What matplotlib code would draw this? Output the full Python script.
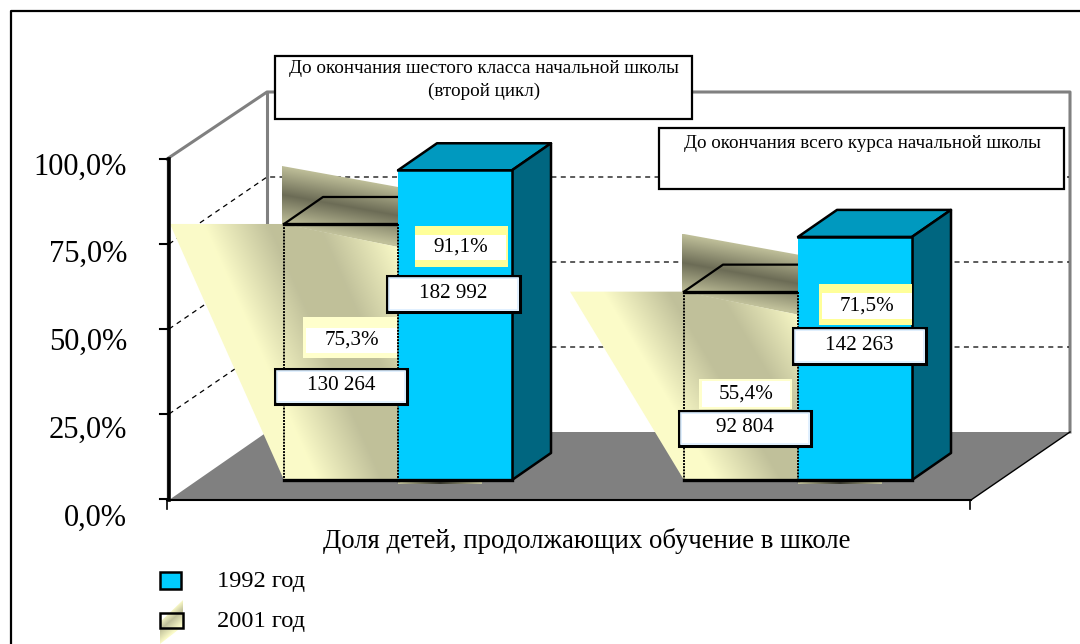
import matplotlib
matplotlib.use("Agg")
import matplotlib.pyplot as plt
import numpy as np
from matplotlib.patches import Polygon, Rectangle

plt.rcParams["font.family"] = ["Liberation Serif", "DejaVu Serif"]

# values
groups = ["До окончания шестого класса начальной школы\n(второй цикл)",
          "До окончания всего курса начальной школы"]
share_1992 = [91.1, 71.5]
share_2001 = [75.3, 55.4]
count_1992 = ["182 992", "142 263"]
count_2001 = ["130 264", "92 804"]
pct_1992 = ["91,1%", "71,5%"]
pct_2001 = ["75,3%", "55,4%"]
y_ticks = [0, 25, 50, 75, 100]
y_labels = ["0,0%", "25,0%", "50,0%", "75,0%", "100,0%"]
series = ["1992 год", "2001 год"]
x_title = "Доля детей, продолжающих обучение в школе"

PALE = np.array([0xFB, 0xFB, 0xC8]) / 255
TAN = np.array([0xC0, 0xC0, 0x9A]) / 255
DARK = np.array([0x6C, 0x6C, 0x56]) / 255
BLUE = "#00CCFF"
BLUE_TOP = "#0099BF"
BLUE_SIDE = "#006680"
GRAY = "#808080"

# everything is laid out in picture pixels
fig = plt.figure(figsize=(10.8, 6.44), dpi=100)
ax = fig.add_axes([0, 0, 1, 1])
ax.axis("off")

AXIS_X, AXIS_ZERO, AXIS_PX = 169, 499, 3.4
DX, DY = 98, 67
FLOOR_R = 971
BAR_BASE = 480
BAR_W = 114
BAR_LEFT = [284, 684]
BAR_DX, BAR_DY = 39, 27


def axis_y(v):
    return AXIS_ZERO - v * AXIS_PX


def bar_y(v):
    return BAR_BASE - v * AXIS_PX


def gradient_poly(pts, color_fn, z):
    xs = [p[0] for p in pts]
    ys = [p[1] for p in pts]
    x0, x1, y0, y1 = min(xs), max(xs), min(ys), max(ys)
    gx, gy = np.meshgrid(np.arange(x0, x1 + 1) + 0.5, np.arange(y0, y1 + 1) + 0.5)
    im = ax.imshow(color_fn(gx, gy), extent=(x0, x1 + 1, y1 + 1, y0),
                   aspect="auto", zorder=z, interpolation="bilinear")
    clip = Polygon(pts, closed=True, transform=ax.transData, fc="none", ec="none")
    ax.add_patch(clip)
    im.set_clip_path(clip)


def ramp(t, stops, colors):
    return np.stack([np.interp(t, stops, [c[i] for c in colors]) for i in range(3)], axis=-1)


def label_box(x0, y0, x1, y1, text, size=15.2):
    ax.add_patch(Rectangle((x0, y0), x1 - x0, y1 - y0, fc="white", ec="black", lw=2.2, zorder=z_lab))
    ax.add_patch(Rectangle((x0 + 2, y0 + 2), x1 - x0 - 4, y1 - y0 - 4, fc="none", ec="#DCEEFF", lw=1.2, zorder=z_lab))
    ax.text((x0 + x1) / 2, (y0 + y1) / 2 - 1, text, ha="center", va="center", fontsize=size, zorder=z_lab + 1)


def pct_box(x0, y0, x1, y1, ix0, iy0, ix1, iy1, color, text):
    ax.add_patch(Rectangle((x0, y0), x1 - x0, y1 - y0, fc=color, ec="none", zorder=z_lab))
    ax.add_patch(Rectangle((ix0, iy0), ix1 - ix0, iy1 - iy0, fc="white", ec="none", zorder=z_lab))
    ax.text((ix0 + ix1) / 2, (iy0 + iy1) / 2, text, ha="center", va="center", fontsize=15.2, zorder=z_lab + 1)


z_lab = 20

# outer frame, the right and bottom sides run off the picture
ax.plot([11, 11, 1080], [644, 11, 11], color="black", lw=1.6, zorder=1)

# floor and walls
ax.add_patch(Polygon([(AXIS_X, AXIS_ZERO + 1), (FLOOR_R, AXIS_ZERO + 1),
                      (FLOOR_R + DX + 1, AXIS_ZERO - DY), (AXIS_X + DX, AXIS_ZERO - DY)],
                     fc=GRAY, ec="none", zorder=2))
wall_top = axis_y(100) - DY
ax.plot([AXIS_X - 2, AXIS_X + DX, FLOOR_R + DX + 1, FLOOR_R + DX + 1],
        [axis_y(100), wall_top, wall_top, AXIS_ZERO - DY], color=GRAY, lw=2.2, zorder=2)
ax.plot([AXIS_X + DX, AXIS_X + DX], [wall_top, AXIS_ZERO - DY], color=GRAY, lw=2.2, zorder=2)
ax.plot([AXIS_X - 2, AXIS_X - 2], [axis_y(100), AXIS_ZERO], color=GRAY, lw=1, zorder=2)
for v in y_ticks[1:-1]:
    ax.plot([AXIS_X, AXIS_X + DX, FLOOR_R + DX], [axis_y(v), axis_y(v) - DY, axis_y(v) - DY],
            color="black", lw=0.9, ls=(0, (4, 3.5)), zorder=3)

# axis line, ticks and labels
ax.plot([AXIS_X, AXIS_X], [axis_y(100), AXIS_ZERO + 1], color="black", lw=2.6, zorder=12)
ax.plot([AXIS_X - 2, FLOOR_R], [AXIS_ZERO + 1, AXIS_ZERO + 1], color="black", lw=1.5, zorder=12)
ax.plot([FLOOR_R, FLOOR_R + DX + 1], [AXIS_ZERO + 1, AXIS_ZERO - DY], color="black", lw=1, zorder=3)
for v, lab in zip(y_ticks, y_labels):
    ax.plot([AXIS_X - 9, AXIS_X], [axis_y(v), axis_y(v)], color="black", lw=1.5, zorder=12)
    ax.text(127, 518 - v * 3.51, lab, ha="right", va="center", fontsize=22, zorder=12)
for x in (AXIS_X - 2, FLOOR_R - 1):
    ax.plot([x, x], [AXIS_ZERO + 1, AXIS_ZERO + 10], color="black", lw=1.2, zorder=12)

for i in range(2):
    left = BAR_LEFT[i]
    mid = left + BAR_W
    right = mid + BAR_W
    top_92 = bar_y(share_1992[i])
    top_01 = bar_y(share_2001[i])
    h01 = BAR_BASE - top_01

    # glow under the 1992 bar
    gradient_poly([(mid, BAR_BASE + 1), (mid + 84, BAR_BASE + 1), (mid + 84, BAR_BASE + 4), (mid, BAR_BASE + 4)],
                  lambda gx, gy, m=mid: ramp(np.abs(gx - m - 42) / 42, [0, 1], [DARK * 0.5, TAN]), 4)

    # shaded wedge behind the top of the 2001 bar
    wedge = [(left - 2, top_01 - 58), (mid, top_01 - 37), (mid, top_01 + 23), (left - 2, top_01)]
    gradient_poly(wedge,
                  lambda gx, gy, l=left, t=top_01: ramp((gy - (t - 58) - 0.18 * (gx - l)) / 58,
                                                        [0, 0.5, 1], [TAN, DARK, TAN]), 5)

    # pale front face with its long slanted tail
    front = [(left - BAR_W, top_01), (left, top_01), (mid, top_01 + 23), (mid, BAR_BASE), (left, BAR_BASE)]
    gradient_poly(front,
                  lambda gx, gy, l=left, t=top_01, h=h01: ramp(
                      (224 * (gx - l + BAR_W) - 100 * (gy - t) * 254 / h) / 245,
                      [0, 30, 90, 135, 200], [PALE, PALE, TAN, TAN, PALE]), 6)

    # 2001 outlines
    ax.plot([left, left + BAR_DX, mid], [top_01, top_01 - BAR_DY, top_01 - BAR_DY], color="black", lw=1.6, zorder=7)
    ax.plot([left, mid], [top_01, top_01], color="black", lw=2.4, zorder=7)
    ax.plot([left, mid], [BAR_BASE, BAR_BASE], color="black", lw=2.4, zorder=7)
    ax.plot([left, left], [top_01, BAR_BASE], color="black", lw=1.4, ls=(0, (1, 0.6)), zorder=7)
    ax.plot([mid, mid], [top_01, BAR_BASE], color="black", lw=1.4, ls=(0, (1, 0.6)), zorder=9)

    # 1992 box
    ax.add_patch(Polygon([(mid, top_92), (mid + BAR_DX, top_92 - BAR_DY),
                          (right + BAR_DX, top_92 - BAR_DY), (right, top_92)],
                         fc=BLUE_TOP, ec="black", lw=1.8, joinstyle="round", zorder=8))
    ax.add_patch(Polygon([(right, top_92), (right + BAR_DX, top_92 - BAR_DY),
                          (right + BAR_DX, BAR_BASE - BAR_DY), (right, BAR_BASE)],
                         fc=BLUE_SIDE, ec="black", lw=1.8, joinstyle="round", zorder=8))
    ax.add_patch(Rectangle((mid, top_92), BAR_W, BAR_BASE - top_92, fc=BLUE, ec="none", zorder=8))
    ax.plot([mid, right, right], [top_92, top_92, BAR_BASE], color="black", lw=1.8, zorder=9)
    ax.plot([mid, right], [BAR_BASE, BAR_BASE], color="black", lw=2.4, zorder=9)

# floating labels, placed by hand in the original too
pct_box(415, 226, 508, 267, 415, 235, 506, 260, "#FFFF99", pct_1992[0])
pct_box(819, 284, 912, 325, 822, 293, 912, 319, "#FFFF99", pct_1992[1])
pct_box(303, 317, 397, 358, 306, 328, 397, 353, "#FFFFCC", pct_2001[0])
pct_box(699, 379, 792, 409, 702, 381, 790, 407, "#FFFFCC", pct_2001[1])
label_box(387, 276, 520, 312, count_1992[0])
label_box(793, 328, 926, 364, count_1992[1])
label_box(275, 369, 407, 404, count_2001[0])
label_box(679, 411, 811, 446, count_2001[1])

# group captions
ax.add_patch(Rectangle((275, 56), 417, 63, fc="white", ec="black", lw=1.6, zorder=z_lab))
ax.text(484, 80, groups[0], ha="center", va="center", fontsize=13.8, linespacing=1.45, zorder=z_lab + 1)
ax.add_patch(Rectangle((659, 128), 405, 61, fc="white", ec="black", lw=1.6, zorder=z_lab))
ax.text(862, 143, groups[1], ha="center", va="center", fontsize=13.7, zorder=z_lab + 1)

# axis title and legend
ax.text(587, 541, x_title, ha="center", va="center", fontsize=19.3)
ax.add_patch(Rectangle((160, 572), 21, 17, fc=BLUE, ec="black", lw=1.8, zorder=5))
ax.text(217, 581, series[0], ha="left", va="center", fontsize=17.6)
gradient_poly([(160, 622), (183, 600), (183, 626), (160, 644)],
              lambda gx, gy: ramp(gy - 598 + (gx - 160) * 0.87, [22, 32, 46], [PALE, TAN, PALE]), 4)
ax.add_patch(Rectangle((160, 613), 23, 15, fc="none", ec="black", lw=1.8, zorder=5))
ax.text(217, 622, series[1], ha="left", va="center", fontsize=17.6)

ax.set_xlim(0, 1080)
ax.set_ylim(644, 0)
fig.savefig("out.png", dpi=100)
plt.close(fig)
